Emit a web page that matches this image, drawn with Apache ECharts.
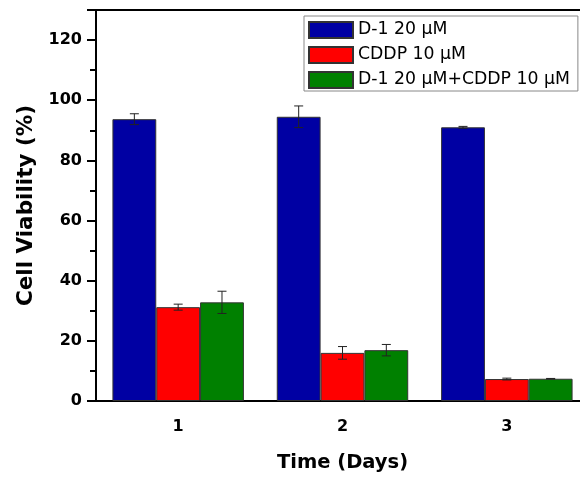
<!DOCTYPE html>
<html>
<head>
<meta charset="utf-8">
<script src="https://cdn.jsdelivr.net/npm/echarts@6/dist/echarts.min.js"></script>
<style>html,body{margin:0;padding:0;background:#fff;overflow:hidden;width:580px;height:478px}#c{width:590px;height:478px}</style>
</head>
<body>
<div id="c"></div>
<script>
var categories = ['1', '2', '3'];
var seriesNames = ['D-1 20 μM', 'CDDP 10 μM', 'D-1 20 μM+CDDP 10 μM'];
var d1Values = [93.7, 94.5, 91.0];
var d1Errors = [1.8, 3.6, 0.3];
var cddpValues = [31.2, 16.0, 7.3];
var cddpErrors = [1.0, 2.1, 0.3];
var comboValues = [32.8, 16.9, 7.4];
var comboErrors = [3.7, 1.9, 0.1];
var yTicks = [0, 20, 40, 60, 80, 100, 120];

var colors = ['#0000a3', '#ff0000', '#008000'];
var allValues = [d1Values, cddpValues, comboValues];
var allErrors = [d1Errors, cddpErrors, comboErrors];

var chart = echarts.init(document.getElementById('c'), null, {renderer: 'canvas'});

var series = [];
allValues.forEach(function (vals, i) {
  series.push({
    name: seriesNames[i],
    type: 'bar',
    xAxisIndex: 0,
    data: vals,
    barGap: '0%',
    barCategoryGap: '20%',
    itemStyle: {color: colors[i], borderColor: '#333', borderWidth: 1},
    z: 2
  });
});
allValues.forEach(function (vals, i) {
  var data = vals.map(function (v, k) {
    return [k, v - allErrors[i][k], v + allErrors[i][k]];
  });
  series.push({
    name: 'err' + i,
    type: 'custom',
    xAxisIndex: 0,
    z: 10,
    data: data,
    renderItem: function (params, api) {
      var idx = api.value(0);
      var lo = api.coord([idx, api.value(1)]);
      var hi = api.coord([idx, api.value(2)]);
      var band = api.size([1, 0])[0];
      var bw = band * 0.8 / 3;
      var x = lo[0] + (i - 1) * bw;
      var cap = 4.5;
      var st = {stroke: '#222', lineWidth: 1};
      return {
        type: 'group',
        children: [
          {type: 'line', shape: {x1: x, y1: lo[1], x2: x, y2: hi[1]}, style: st},
          {type: 'line', shape: {x1: x - cap, y1: lo[1], x2: x + cap, y2: lo[1]}, style: st},
          {type: 'line', shape: {x1: x - cap, y1: hi[1], x2: x + cap, y2: hi[1]}, style: st}
        ]
      };
    }
  });
});

var option = {
  animation: false,
  backgroundColor: '#fff',
  grid: {left: 96, top: 10, width: 493, bottom: 77, show: true, borderColor: '#000', borderWidth: 2, backgroundColor: 'transparent'},
  legend: {
    data: seriesNames.map(function (n) { return {name: n, icon: 'rect'}; }),
    orient: 'vertical',
    left: 304,
    top: 16,
    itemWidth: 44,
    itemHeight: 16,
    itemGap: 7,
    padding: [5, 8, 2, 4],
    borderColor: '#888',
    borderWidth: 1,
    backgroundColor: '#fff',
    textStyle: {fontFamily: 'DejaVu Sans', fontSize: 17.3, color: '#000', padding: [0, 0, 0, 0]}
  },
  xAxis: [
    {
      type: 'category',
      data: categories,
      name: 'Time (Days)',
      nameLocation: 'middle',
      nameGap: 52,
      nameTextStyle: {fontFamily: 'DejaVu Sans', fontWeight: 'bold', fontSize: 19.5, color: '#000'},
      axisLine: {lineStyle: {color: '#000', width: 2}},
      axisTick: {alignWithLabel: true, length: 9, lineStyle: {color: '#000', width: 2}},
      axisLabel: {fontFamily: 'DejaVu Sans', fontWeight: 'bold', fontSize: 16, color: '#000', margin: 18},
      splitLine: {show: false}
    },
    {
      type: 'category',
      data: categories,
      position: 'bottom',
      axisLine: {show: false},
      axisTick: {length: 6, lineStyle: {color: '#000', width: 2}},
      axisLabel: {show: false},
      splitLine: {show: false}
    }
  ],
  yAxis: {
    type: 'value',
    min: 0,
    max: 130,
    interval: 20,
    name: 'Cell Viability (%)',
    nameLocation: 'middle',
    nameGap: 58,
    nameTextStyle: {fontFamily: 'DejaVu Sans', fontWeight: 'bold', fontSize: 21.5, color: '#000'},
    axisLine: {show: true, lineStyle: {color: '#000', width: 2}},
    axisTick: {show: true, length: 9, lineStyle: {color: '#000', width: 2}},
    minorTick: {show: true, splitNumber: 2, length: 6, lineStyle: {color: '#000', width: 2}},
    axisLabel: {
      fontFamily: 'DejaVu Sans', fontWeight: 'bold', fontSize: 16, color: '#000', margin: 14,
      showMaxLabel: false,
      formatter: function (v) { return yTicks.indexOf(v) >= 0 ? String(v) : ''; }
    },
    splitLine: {show: false}
  },
  series: series
};
chart.setOption(option);
</script>
</body>
</html>
